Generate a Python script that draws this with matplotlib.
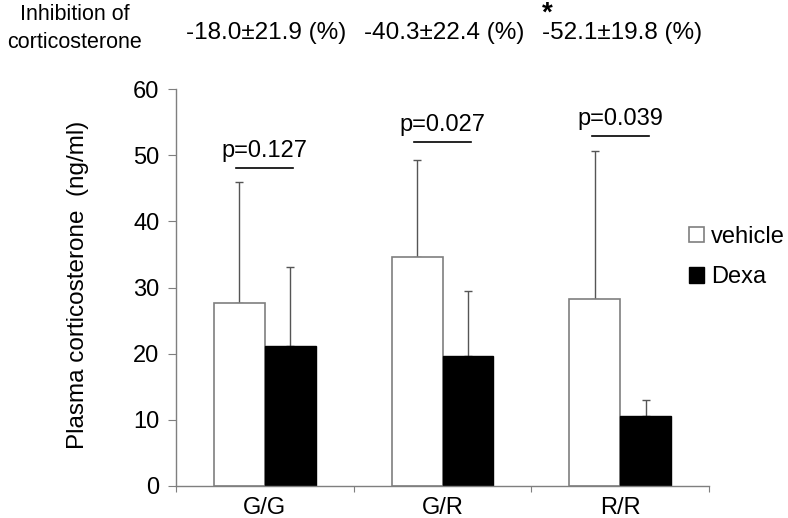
import matplotlib
matplotlib.use("Agg")
import matplotlib.pyplot as plt
import matplotlib.transforms as mtransforms
import numpy as np

plt.rcParams['font.family'] = ['Liberation Sans', 'DejaVu Sans']

categories = ["G/G", "G/R", "R/R"]
vehicle_mean = [27.7, 34.6, 28.2]
vehicle_sd = [18.2, 14.7, 22.4]
dexa_mean = [21.2, 19.6, 10.6]
dexa_sd = [11.9, 9.9, 2.4]
p_labels = ["p=0.127", "p=0.027", "p=0.039"]
inhibition_labels = ["-18.0\u00b121.9 (%)", "-40.3\u00b122.4 (%)", "-52.1\u00b119.8 (%)"]
significant = [False, False, True]

# layout
p_line_y = [48.1, 52.0, 52.9]

W, H = 788, 518
fig = plt.figure(figsize=(W / 100, H / 100), dpi=100)
ax = fig.add_axes([176 / W, 1 - 485.7 / H, (709 - 176) / W, (485.7 - 89.3) / H])

x = np.arange(len(categories)) + 0.5
bw = 0.287
grey = "#7f7f7f"

ax.bar(x - bw / 2, vehicle_mean, bw, color="white", edgecolor=grey, linewidth=1.2,
       label="vehicle", zorder=2)
ax.bar(x + bw / 2, dexa_mean, bw, color="black", edgecolor="black", linewidth=1.0,
       label="Dexa", zorder=2)
ax.errorbar(x - bw / 2, vehicle_mean, yerr=[np.zeros(3), vehicle_sd], fmt="none",
            ecolor="#555555", elinewidth=1.0, capsize=3, capthick=1.0, zorder=1)
ax.errorbar(x + bw / 2, dexa_mean, yerr=[np.zeros(3), dexa_sd], fmt="none",
            ecolor="#555555", elinewidth=1.0, capsize=3, capthick=1.0, zorder=1)

for xi, yl, lab in zip(x, p_line_y, p_labels):
    ax.plot([xi - 0.16, xi + 0.16], [yl, yl], color="black", lw=1.2, clip_on=False)
    ax.text(xi, yl + 1.65, lab, ha="center", va="baseline", fontsize=17)

ax.set_xlim(0, 3)
ax.set_ylim(0, 60)
ax.set_yticks(range(0, 61, 10))
ax.set_xticks([0, 1, 2, 3])
ax.set_xticklabels([])
ax.set_xticks(x, minor=True)
ax.set_xticklabels(categories, minor=True, fontsize=17)
ax.tick_params(axis="x", which="major", length=4, color=grey, direction="out")
ax.tick_params(axis="x", which="minor", length=0, pad=8)
ax.tick_params(axis="y", length=6, color=grey, labelsize=17, pad=6)
for s in ["top", "right"]:
    ax.spines[s].set_visible(False)
for s in ["left", "bottom"]:
    ax.spines[s].set_color(grey)
    ax.spines[s].set_linewidth(1.0)

ax.set_ylabel("Plasma corticosterone  (ng/ml)", fontsize=17.5)
ax.yaxis.set_label_coords(-0.163, 0.506)

# header
fig.text(75 / W, 1 - 20 / H, "Inhibition of", ha="center", va="baseline", fontsize=15.5)
fig.text(75 / W, 1 - 48 / H, "corticosterone", ha="center", va="baseline", fontsize=15.5)
trans = mtransforms.blended_transform_factory(ax.transData, fig.transFigure)
for xi, lab, sig in zip(x, inhibition_labels, significant):
    ax.text(xi + 0.01, 1 - 38.5 / H, lab, ha="center", va="baseline", fontsize=17.5,
            transform=trans)
    if sig:
        ax.text(xi - 0.41, 1 - 21 / H, "*", ha="center", va="baseline", fontsize=20,
                fontweight="bold", transform=trans)

leg = fig.legend(loc="upper left", bbox_to_anchor=(689 / W, 1 - 225.5 / H), frameon=False,
                 fontsize=17, handlelength=0.62, handleheight=0.62, handletextpad=0.32,
                 labelspacing=0.8, borderaxespad=0, borderpad=0)

fig.savefig("out.png", dpi=100)
